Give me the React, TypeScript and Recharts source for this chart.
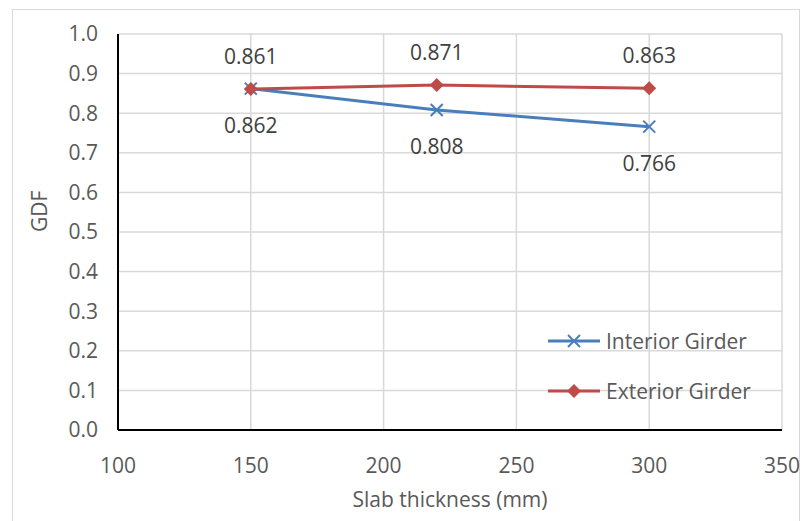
import { CartesianGrid, LabelList, Line, LineChart, XAxis, YAxis } from "recharts";

const thickness = [150, 220, 300];
const interiorGdf = [0.862, 0.808, 0.766];
const exteriorGdf = [0.861, 0.871, 0.863];
const xTicks = [100, 150, 200, 250, 300, 350];
const yTicks = [0, 0.1, 0.2, 0.3, 0.4, 0.5, 0.6, 0.7, 0.8, 0.9, 1.0];

const BLUE = "#4A7EBB";
const RED = "#BE4B48";
const FONT = "'Open Sans', sans-serif";
const FS = 21;

const data = thickness.map((t, i) => ({
  thickness: t,
  interior: interiorGdf[i],
  exterior: exteriorGdf[i],
}));

const CrossDot = (props: any) => {
  const { cx, cy } = props;
  if (cx == null || cy == null) return null;
  const s = 6;
  return (
    <g>
      <line x1={cx - s} y1={cy - s} x2={cx + s} y2={cy + s} stroke={BLUE} strokeWidth={2} />
      <line x1={cx - s} y1={cy + s} x2={cx + s} y2={cy - s} stroke={BLUE} strokeWidth={2} />
    </g>
  );
};

const DiamondDot = (props: any) => {
  const { cx, cy } = props;
  if (cx == null || cy == null) return null;
  const s = 7;
  return <polygon points={`${cx},${cy - s} ${cx + s},${cy} ${cx},${cy + s} ${cx - s},${cy}`} fill={RED} />;
};

const makeLabel = (dy: number) => (props: any) => {
  const { x, y, value } = props;
  return (
    <text x={x} y={y + dy} textAnchor="middle" dominantBaseline="central" fill="#404040" fontSize={FS} fontFamily={FONT}>
      {Number(value).toFixed(3)}
    </text>
  );
};

const LegendBox = () => (
  <svg width={240} height={90} style={{ position: "absolute", left: 546, top: 325 }}>
    <line x1={2} y1={16} x2={54} y2={16} stroke={BLUE} strokeWidth={3} />
    <CrossDot cx={28} cy={16} />
    <text x={60} y={16} dominantBaseline="central" fontSize={FS} fill="#595959" fontFamily={FONT}>Interior Girder</text>
    <line x1={2} y1={66} x2={54} y2={66} stroke={RED} strokeWidth={3} />
    <DiamondDot cx={28} cy={66} />
    <text x={60} y={66} dominantBaseline="central" fontSize={FS} fill="#595959" fontFamily={FONT}>Exterior Girder</text>
  </svg>
);

export default function App() {
  return (
    <div style={{ position: "absolute", left: 0, top: 0, width: 806, height: 521, background: "#fff" }}>
      <div style={{ position: "absolute", left: 12, top: 9, width: 788, height: 520, border: "1px solid #D9D9D9", boxSizing: "border-box" }} />
      <LineChart width={806} height={521} data={data} margin={{ top: 34, right: 24, left: 0, bottom: 0 }}>
        <CartesianGrid stroke="#D9D9D9" strokeWidth={1.5} />
        <XAxis
          type="number"
          dataKey="thickness"
          domain={[100, 350]}
          ticks={xTicks}
          height={91}
          tickLine={false}
          axisLine={{ stroke: "#000", strokeWidth: 2 }}
          tick={{ fill: "#595959", fontSize: FS, fontFamily: FONT, dy: 20 }}
          label={{ value: "Slab thickness (mm)", position: "insideBottom", offset: 14, fill: "#595959", fontSize: FS, fontFamily: FONT }}
        />
        <YAxis
          type="number"
          domain={[0, 1]}
          ticks={yTicks}
          width={118}
          tickLine={false}
          axisLine={{ stroke: "#000", strokeWidth: 2 }}
          tickFormatter={(v: number) => v.toFixed(1)}
          tick={{ fill: "#595959", fontSize: FS, fontFamily: FONT, dx: -12 }}
          label={{ value: "GDF", angle: -90, position: "insideLeft", offset: 40, fill: "#595959", fontSize: FS, fontFamily: FONT }}
        />
        <Line
          dataKey="interior"
          name="Interior Girder"
          stroke={BLUE}
          strokeWidth={3}
          dot={<CrossDot />}
          activeDot={false}
          isAnimationActive={false}
        >
          <LabelList dataKey="interior" content={makeLabel(36)} />
        </Line>
        <Line
          dataKey="exterior"
          name="Exterior Girder"
          stroke={RED}
          strokeWidth={3}
          dot={<DiamondDot />}
          activeDot={false}
          isAnimationActive={false}
        >
          <LabelList dataKey="exterior" content={makeLabel(-33)} />
        </Line>
      </LineChart>
      <LegendBox />
    </div>
  );
}
